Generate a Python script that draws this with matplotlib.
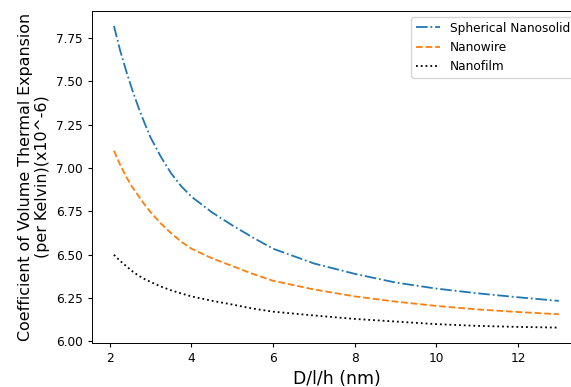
import numpy as np
import matplotlib
matplotlib.use("Agg")
from matplotlib import pyplot as plt

# size values (nm)
size_nm = [2.1, 2.25, 2.4, 2.55, 2.7, 2.85, 3.0, 3.25, 3.5, 3.75, 4.0, 4.5, 5.0, 5.5, 6.0,
           7.0, 8.0, 9.0, 10.0, 11.0, 12.0, 13.0]

# coefficient of volume thermal expansion (x10^-6 per K)
spherical = [7.82, 7.68, 7.56, 7.45, 7.35, 7.26, 7.175, 7.065, 6.97, 6.895, 6.835, 6.745, 6.67, 6.60, 6.535,
             6.45, 6.39, 6.34, 6.305, 6.278, 6.255, 6.234]
nanowire = [7.10, 7.02, 6.95, 6.89, 6.84, 6.79, 6.745, 6.68, 6.625, 6.575, 6.535, 6.48, 6.435, 6.39, 6.35,
            6.30, 6.26, 6.23, 6.205, 6.185, 6.17, 6.157]
nanofilm = [6.50, 6.465, 6.435, 6.405, 6.38, 6.36, 6.343, 6.317, 6.295, 6.277, 6.26, 6.235, 6.213, 6.19, 6.172,
            6.15, 6.13, 6.115, 6.10, 6.09, 6.084, 6.08]

plt.rcParams['xtick.labelsize'] = 8.7
plt.rcParams['ytick.labelsize'] = 8.7
plt.rcParams['xtick.major.size'] = 3
plt.rcParams['ytick.major.size'] = 3
plt.rcParams['axes.linewidth'] = 0.7
plt.rcParams['lines.linewidth'] = 1.3

fig = plt.figure(figsize=(5.71, 3.87), dpi=100)
# the original picture is cropped on the right, so the axes run past the edge
ax = fig.add_axes([0.1606, 0.1145, 0.857, 0.8575])

ax.plot(size_nm, spherical, '-.', color='tab:blue', label='Spherical Nanosolid')
ax.plot(size_nm, nanowire, '--', color='tab:orange', label='Nanowire')
ax.plot(size_nm, nanofilm, ':', color='black', label='Nanofilm')

ax.set_xlabel('D/l/h (nm)', fontsize=12.4)
ax.set_ylabel('Coefficient of Volume Thermal Expansion\n(per Kelvin)(x10^-6)', fontsize=11.4)
ax.legend(loc='upper right', fontsize=8.7)

plt.savefig('out.png', dpi=100)
